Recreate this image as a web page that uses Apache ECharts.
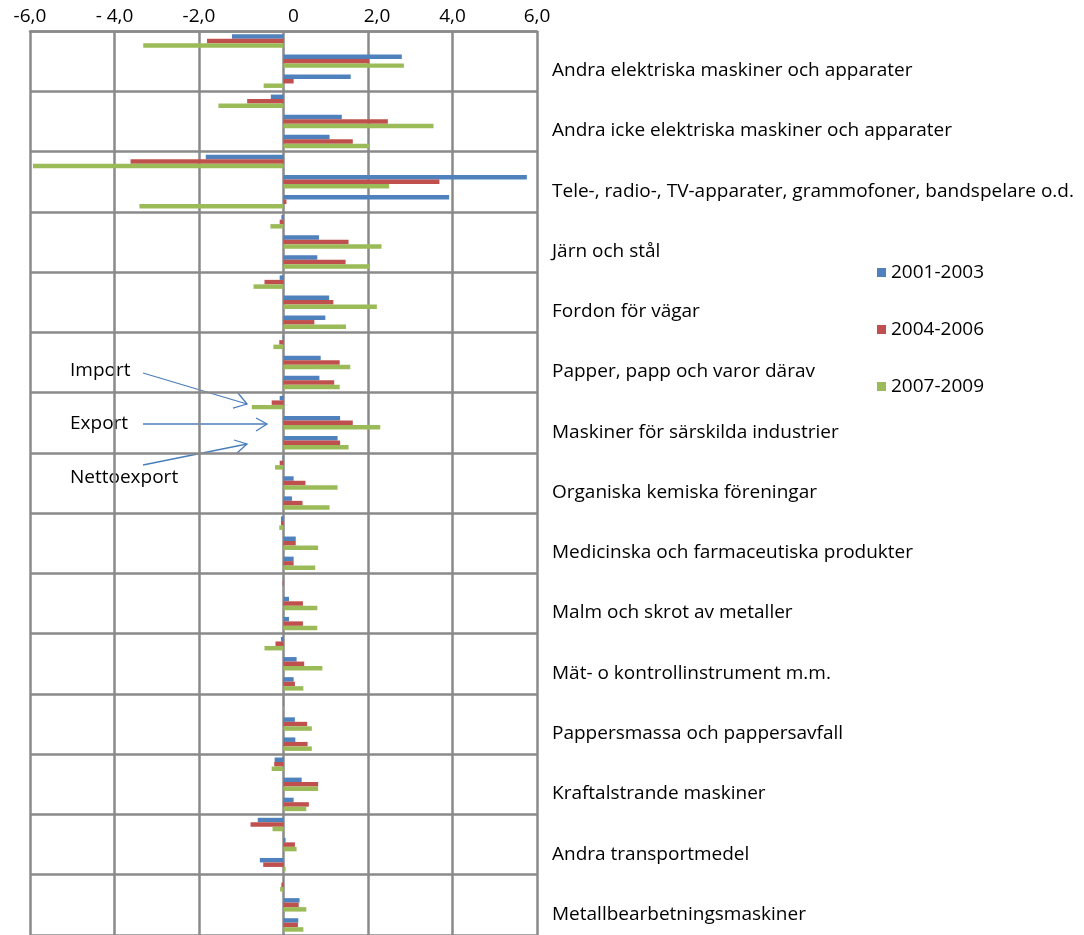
<!DOCTYPE html>
<html>
<head>
<meta charset="utf-8">
<script src="https://cdn.jsdelivr.net/npm/echarts@6/dist/echarts.min.js"></script>
<style>
html,body{margin:0;padding:0;background:#fff;}
#chart{width:1084px;height:935px;}
</style>
</head>
<body>
<div id="chart"></div>
<script>
const categories = [
  "Andra elektriska maskiner och apparater",
  "Andra icke elektriska maskiner och apparater",
  "Tele-, radio-, TV-apparater, grammofoner, bandspelare o.d.",
  "Järn och stål",
  "Fordon för vägar",
  "Papper, papp och varor därav",
  "Maskiner för särskilda industrier",
  "Organiska kemiska föreningar",
  "Medicinska och farmaceutiska produkter",
  "Malm och skrot av metaller",
  "Mät- o kontrollinstrument m.m.",
  "Pappersmassa och pappersavfall",
  "Kraftalstrande maskiner",
  "Andra transportmedel",
  "Metallbearbetningsmaskiner"
];
const seriesNames = ["2001-2003", "2004-2006", "2007-2009"];
const rowKinds = ["Import", "Export", "Nettoexport"];
const xTickLabels = ["-6,0", "- 4,0", "-2,0", "0", "2,0", "4,0", "6,0"];

// Import (negative), Export, Nettoexport per period
const import2001 = [-1.22, -0.30, -1.84, -0.05, -0.09, -0.02, -0.09, -0.02, -0.06, -0.01, -0.06, -0.01, -0.21, -0.61, -0.01];
const import2004 = [-1.81, -0.86, -3.62, -0.09, -0.45, -0.10, -0.28, -0.09, -0.06, -0.02, -0.19, -0.01, -0.22, -0.78, -0.05];
const import2007 = [-3.32, -1.54, -5.93, -0.31, -0.71, -0.24, -0.75, -0.20, -0.10, -0.01, -0.45, -0.01, -0.28, -0.26, -0.08];

const export2001 = [2.80, 1.38, 5.76, 0.84, 1.08, 0.88, 1.34, 0.24, 0.29, 0.13, 0.31, 0.27, 0.43, 0.05, 0.38];
const export2004 = [2.03, 2.47, 3.69, 1.54, 1.18, 1.33, 1.64, 0.52, 0.29, 0.46, 0.49, 0.56, 0.82, 0.27, 0.36];
const export2007 = [2.85, 3.55, 2.50, 2.32, 2.21, 1.58, 2.29, 1.28, 0.82, 0.80, 0.92, 0.67, 0.82, 0.31, 0.54];

const netto2001 = [1.59, 1.09, 3.92, 0.80, 0.99, 0.85, 1.28, 0.20, 0.24, 0.13, 0.24, 0.28, 0.24, -0.56, 0.35];
const netto2004 = [0.24, 1.64, 0.07, 1.47, 0.73, 1.20, 1.34, 0.45, 0.24, 0.46, 0.27, 0.57, 0.60, -0.48, 0.34];
const netto2007 = [-0.47, 2.02, -3.41, 2.03, 1.48, 1.33, 1.54, 1.09, 0.75, 0.80, 0.47, 0.67, 0.54, 0.05, 0.47];

const colors = ["#4F81BD", "#C0504D", "#9BBB59"];
const FONT = "Open Sans";
const FS = 19;

function rows(imp, exp, net) {
  const out = [];
  for (let i = 0; i < categories.length; i++) {
    out.push(imp[i], exp[i], net[i]);
  }
  return out;
}
const rowCats = [];
categories.forEach(c => rowKinds.forEach(k => rowCats.push(c + " - " + k)));

const seriesData = [
  rows(import2001, export2001, netto2001),
  rows(import2004, export2004, netto2004),
  rows(import2007, export2007, netto2007)
];

const chart = echarts.init(document.getElementById('chart'));
const gridColor = "#8a8a8a";
const arrowColor = "#4A7EBB";

function arrow(x1, y1, x2, y2, h1, h2) {
  return [
    { type: 'line', shape: { x1, y1, x2, y2 }, style: { stroke: arrowColor, lineWidth: 1.3 } },
    { type: 'polyline', shape: { points: [h1, [x2, y2], h2] }, style: { stroke: arrowColor, lineWidth: 1.3, fill: null } }
  ];
}

const option = {
  animation: false,
  backgroundColor: '#fff',
  textStyle: { fontFamily: FONT },
  grid: { left: 30, right: 547, top: 31, bottom: 0, containLabel: false },
  legend: {
    orient: 'vertical',
    left: 872,
    top: 258,
    itemWidth: 9,
    itemHeight: 9,
    itemGap: 38,
    icon: 'rect',
    data: seriesNames,
    textStyle: { fontSize: FS, color: '#000', fontFamily: FONT, padding: [0, 0, 0, 0] }
  },
  xAxis: {
    type: 'value',
    position: 'top',
    min: -6,
    max: 6,
    interval: 2,
    axisLine: { show: true, lineStyle: { color: gridColor, width: 2.5 } },
    axisTick: { show: false },
    axisLabel: {
      fontSize: FS, color: '#000', fontFamily: FONT, margin: 5,
      formatter: v => {
        const t = xTickLabels[Math.round((v + 6) / 2)];
        if (v === 0) return '{z|' + t + '}';
        if (v === 2) return '{t|' + t + '}';
        return t;
      },
      rich: {
        z: { fontSize: FS, color: '#000', fontFamily: FONT, padding: [0, 0, 0, 20] },
        t: { fontSize: FS, color: '#000', fontFamily: FONT, padding: [0, 0, 0, 18] }
      }
    },
    splitLine: { show: true, showMinLine: true, showMaxLine: true, lineStyle: { color: gridColor, width: 2.5 } }
  },
  yAxis: [
    {
      type: 'category',
      inverse: true,
      data: rowCats,
      axisLine: { show: false },
      axisTick: { show: false },
      axisLabel: { show: false },
      splitLine: { show: false }
    },
    {
      type: 'category',
      inverse: true,
      position: 'right',
      data: categories,
      axisLine: { show: false },
      axisTick: { show: false },
      axisLabel: {
        show: true, fontSize: FS, color: '#000', fontFamily: FONT,
        margin: 15, align: 'left', verticalAlign: 'top'
      },
      splitLine: { show: true, lineStyle: { color: gridColor, width: 2.5 } }
    }
  ],
  series: seriesNames.map((name, i) => ({
    name,
    type: 'bar',
    yAxisIndex: 0,
    data: seriesData[i],
    barGap: '0%',
    barCategoryGap: '33%',
    itemStyle: { color: colors[i] }
  })),
  graphic: [
    { type: 'text', left: 70, top: 361, style: { text: 'Import', font: FS + 'px ' + FONT, fill: '#000' } },
    { type: 'text', left: 70, top: 414, style: { text: 'Export', font: FS + 'px ' + FONT, fill: '#000' } },
    { type: 'text', left: 70, top: 468, style: { text: 'Nettoexport', font: FS + 'px ' + FONT, fill: '#000' } },
    ...arrow(143, 373, 247, 404, [238, 393], [233, 408]),
    ...arrow(143, 424, 267, 424, [256, 418], [256, 431]),
    ...arrow(143, 465, 247, 444, [234, 440], [237, 453])
  ]
};
chart.setOption(option);
</script>
</body>
</html>
